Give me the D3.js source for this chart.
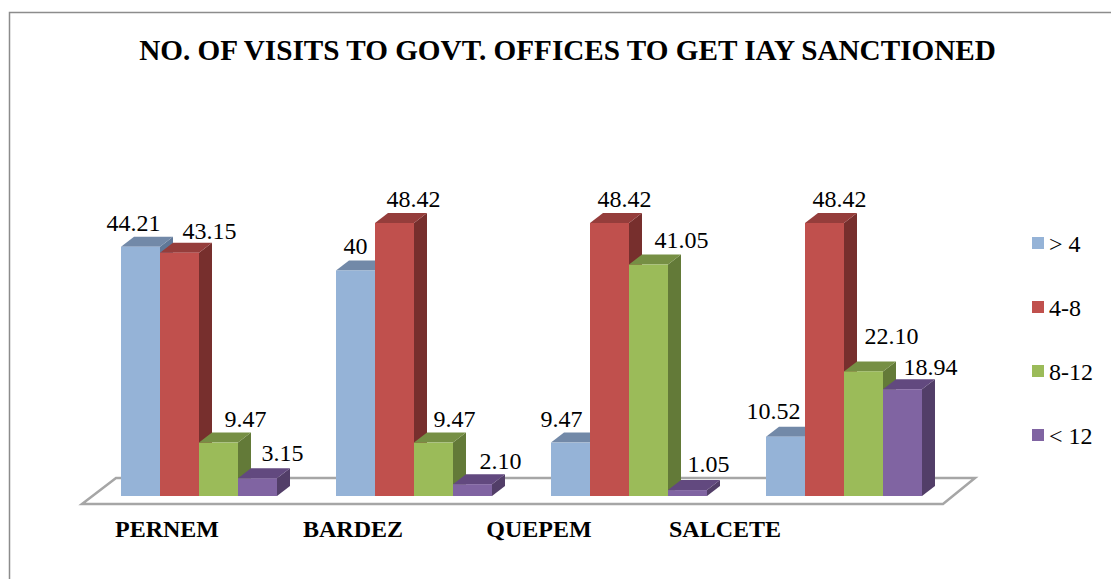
<!DOCTYPE html>
<html>
<head>
<meta charset="utf-8">
<script src="https://d3js.org/d3.v7.min.js"></script>
<style>
  html, body { margin: 0; padding: 0; background: #fff; overflow: hidden; }
  text { font-family: "Liberation Serif", serif; fill: #000; }
</style>
</head>
<body>
<div id="chart"></div>
<script>
var categories = ["PERNEM", "BARDEZ", "QUEPEM", "SALCETE"];
var seriesNames = ["> 4", "4-8", "8-12", "< 12"];
var seriesFront = ["#95b3d7", "#c0504d", "#9bbb59", "#8064a2"];
var seriesTop = ["#7289a8", "#953d3b", "#768f44", "#62497f"];
var seriesSide = ["#5f7898", "#772f2d", "#637a38", "#523e68"];

// label text is kept ("40" has no decimals)
var under4 = ["44.21", "40", "9.47", "10.52"];
var from4to8 = ["43.15", "48.42", "48.42", "48.42"];
var from8to12 = ["9.47", "9.47", "41.05", "22.10"];
var over12 = ["3.15", "2.10", "1.05", "18.94"];
var seriesValues = [under4, from4to8, from8to12, over12];

// the labels were dragged around by hand in the original, so offsets per label
var labelShiftX = [[-7, 0, -9, -12], [30, 19, 15, 15], [27, 21, 33, 28], [25, 28, 21, 28]];
var labelShiftY = [[-16, -16, -16, -18], [-14, -16, -16, -16], [-16, -16, -17, -27], [-17, -15, -18, -14]];

var config = { w: 1111, h: 579, base: 496, top: 223, depthX: 13, depthY: 10 };

var svg = d3.select("#chart").append("svg")
  .attr("width", config.w)
  .attr("height", config.h);

// outer frame, only top and left are inside the picture
svg.append("path")
  .attr("d", "M9.5," + config.h + " L9.5,12.5 L" + config.w + ",12.5")
  .attr("fill", "none")
  .attr("stroke", "#8c8c8c")
  .attr("stroke-width", 1.5);

svg.append("text")
  .attr("x", 567.5).attr("y", 60)
  .attr("text-anchor", "middle")
  .attr("font-size", 29.2)
  .attr("font-weight", "bold")
  .text("NO. OF VISITS TO GOVT. OFFICES TO GET IAY SANCTIONED");

var x0 = d3.scaleBand().domain(categories).range([91.5, 951.5]);
var x1 = d3.scaleBand().domain(seriesNames).range([29.5, 185.5]);
var y = d3.scaleLinear().domain([0, 48.42]).range([config.base, config.top]);

// floor of the 3d plot
svg.append("path")
  .attr("d", "M82,504 L116,478 L975,478 L943,504 Z")
  .attr("fill", "#fff")
  .attr("stroke", "#a6a6a6")
  .attr("stroke-width", 2.5);

var dx = config.depthX, dy = config.depthY;

categories.forEach(function(cat, c) {
  var g = svg.append("g").attr("transform", "translate(" + x0(cat) + ",0)");
  seriesNames.forEach(function(name, s) {
    var left = x1(name), right = left + x1.bandwidth();
    var v = +seriesValues[s][c], t = y(v), b = y(0);

    g.append("path")
      .attr("d", "M" + right + "," + t + " L" + (right + dx) + "," + (t - dy) +
        " L" + (right + dx) + "," + (b - dy) + " L" + right + "," + b + " Z")
      .attr("fill", seriesSide[s]);
    g.append("path")
      .attr("d", "M" + left + "," + t + " L" + (left + dx) + "," + (t - dy) +
        " L" + (right + dx) + "," + (t - dy) + " L" + right + "," + t + " Z")
      .attr("fill", seriesTop[s]);
    g.append("rect")
      .attr("x", left).attr("y", t)
      .attr("width", x1.bandwidth()).attr("height", b - t)
      .attr("fill", seriesFront[s]);
  });
});

// value labels go on top of all the bars
categories.forEach(function(cat, c) {
  seriesNames.forEach(function(name, s) {
    var v = seriesValues[s][c];
    svg.append("text")
      .attr("x", x0(cat) + x1(name) + x1.bandwidth() / 2 + labelShiftX[s][c])
      .attr("y", y(+v) + labelShiftY[s][c])
      .attr("text-anchor", "middle")
      .attr("font-size", 24)
      .text(v);
  });
});

// category labels are spaced on their own, not under the groups
var catLabel = d3.scalePoint().domain(categories).range([167, 725]);
categories.forEach(function(cat) {
  svg.append("text")
    .attr("x", catLabel(cat))
    .attr("y", 537)
    .attr("text-anchor", "middle")
    .attr("font-size", 24)
    .attr("font-weight", "bold")
    .text(cat);
});

var legendY = d3.scalePoint().domain(seriesNames).range([243, 435]);
var legend = svg.selectAll(".legend")
  .data(seriesNames)
  .enter().append("g")
  .attr("class", "legend")
  .attr("transform", function(d) { return "translate(1032," + legendY(d) + ")"; });

legend.append("rect")
  .attr("y", -6)
  .attr("width", 12).attr("height", 12)
  .attr("fill", function(d, i) { return seriesFront[i]; });

legend.append("text")
  .attr("x", 17).attr("y", 9)
  .attr("font-size", 24)
  .text(function(d) { return d; });
</script>
</body>
</html>
